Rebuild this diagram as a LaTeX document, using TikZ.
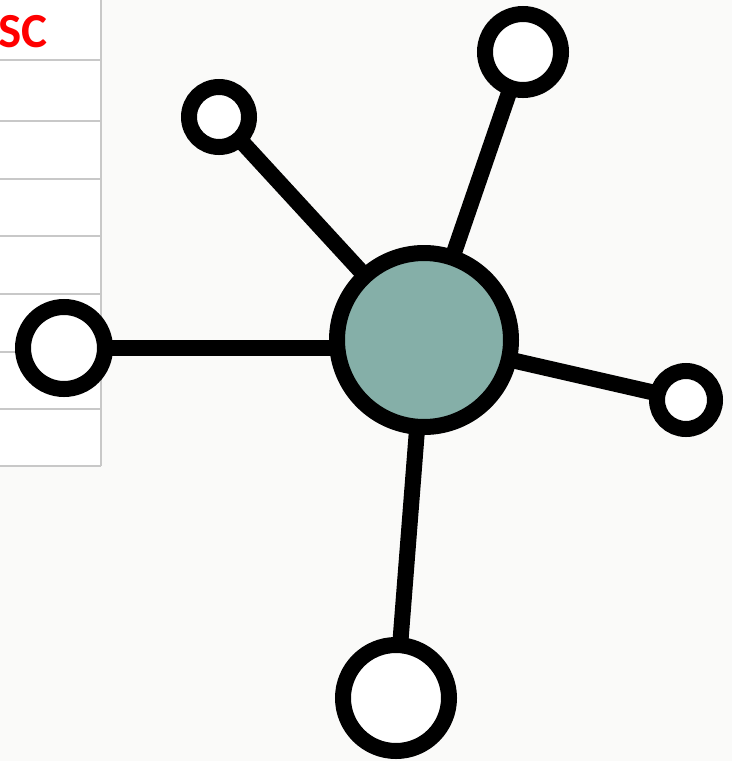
\documentclass[tikz,border=0pt]{standalone}
\usepackage{fontspec}
\newfontfamily\tagfont{Carlito}
\usetikzlibrary{backgrounds}
\definecolor{hubteal}{RGB}{133,175,168}
\definecolor{paper}{RGB}{250,250,249}
\definecolor{gridgray}{RGB}{200,200,200}

\begin{document}
\begin{tikzpicture}[
  x=1pt, y=-1pt,
  hub/.style={draw,circle,line width=16pt,fill=hubteal,inner sep=0pt,minimum size=174pt},
  leaf/.style={draw,circle,line width=16pt,fill=white,inner sep=0pt},
  link/.style={draw,line width=16pt},
  rule/.style={draw=gridgray,line width=1.8pt}
]
\useasboundingbox (0,0) rectangle (732,761);

\node[hub] (h) at (424,340) {};
\node[leaf,minimum size=60pt] (nw) at (219,117) {};
\node[leaf,minimum size=76pt] (ne) at (523,52) {};
\node[leaf,minimum size=82pt] (w) at (64,348) {};
\node[leaf,minimum size=58pt] (e) at (686,400) {};
\node[leaf,minimum size=106pt] (s) at (396,698) {};

\node[text=red,font=\tagfont\bfseries\fontsize{49}{49}\selectfont,
  anchor=base east,inner sep=0pt] (sc) at (48,47) {SC};

\begin{scope}[on background layer]
\fill[paper] (0,0) rectangle (732,761);
\fill[white] (0,0) rectangle (101,466);
\foreach \y in {60,121,179,236,294,352,409,466}
  \draw[rule] (0,\y) -- (101,\y);
\draw[rule] (101,0) -- (101,466);

\path
(h.center) edge[link] (nw.center)
(h.center) edge[link] (ne.center)
(h.center |- w.center) edge[link] (w.center)
(h.center) edge[link] (e.center)
(h.center) edge[link] (s.center)
;
\end{scope}

\end{tikzpicture}
\end{document}
